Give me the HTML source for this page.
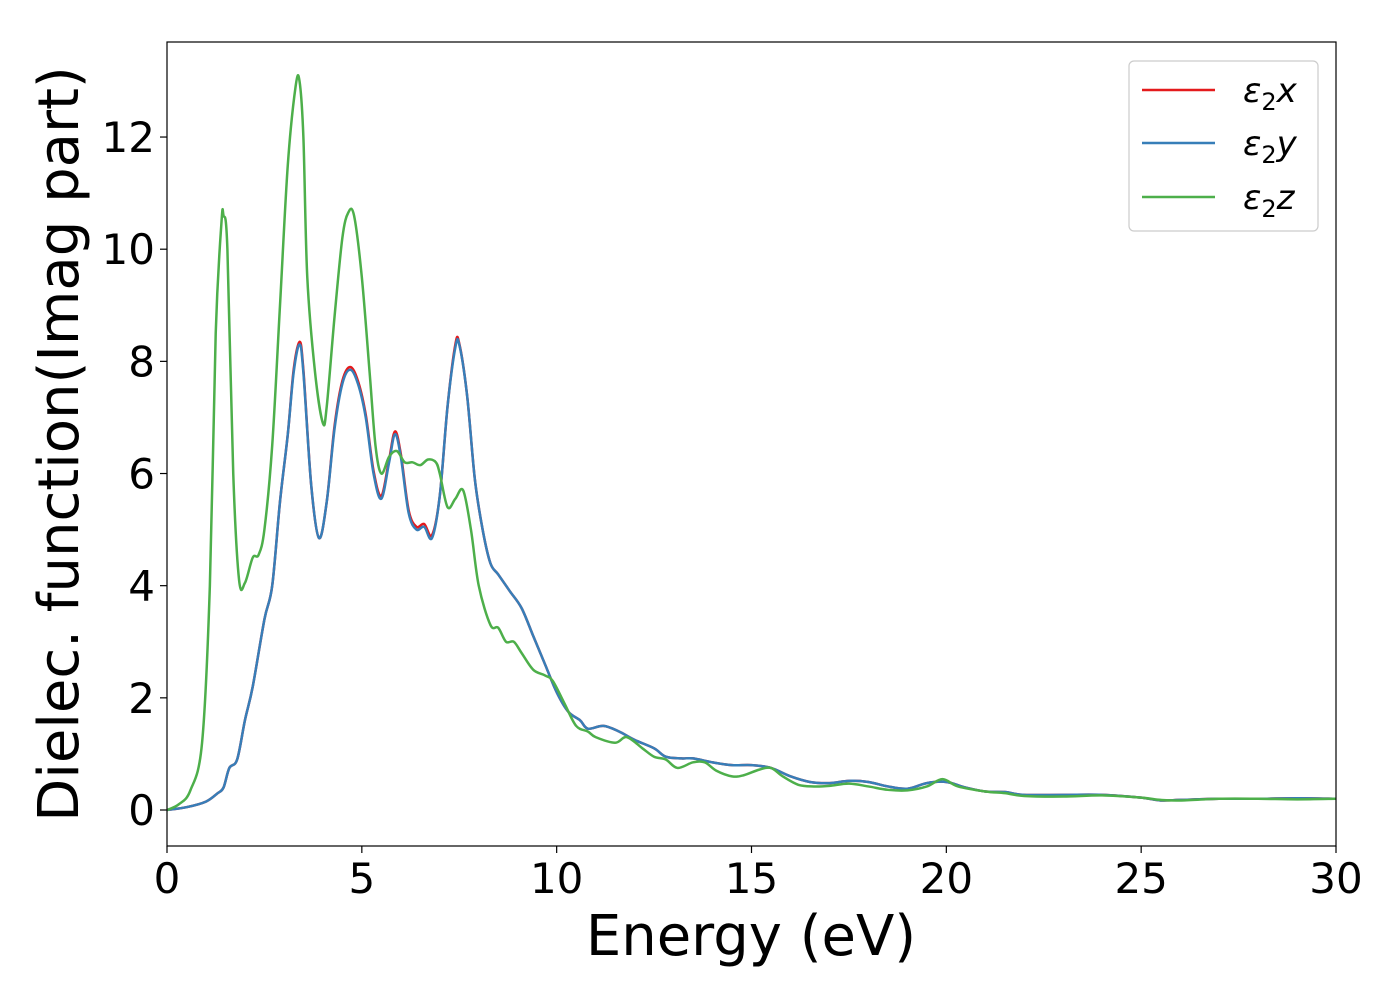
<!DOCTYPE html>
<html><head><meta charset="utf-8"><style>
body{margin:0;background:#fff;}
svg{display:block;font-family:"DejaVu Sans","Liberation Sans",sans-serif;}
</style></head><body>
<svg id="chart" width="1400" height="1000" viewBox="0 0 1400 1000">
<defs><clipPath id="clip"><rect x="167" y="42" width="1169" height="804"/></clipPath></defs>
<g id="ticks"></g>
<g id="series" clip-path="url(#clip)"></g>
<rect x="167" y="42" width="1169" height="804" fill="none" stroke="#000" stroke-width="1.2"/>
<text x="751" y="955" font-size="56" text-anchor="middle">Energy (eV)</text>
<text transform="translate(78,444) rotate(-90)" font-size="56" text-anchor="middle">Dielec. function(Imag part)</text>
<g>
<rect x="1129" y="61" width="189" height="170" rx="5" fill="#fff" stroke="#ccc" stroke-width="1.2"/>
<line x1="1142" y1="90" x2="1215" y2="90" stroke="#e41a1c" stroke-width="2.5"/>
<line x1="1142" y1="143" x2="1215" y2="143" stroke="#377eb8" stroke-width="2.5"/>
<line x1="1142" y1="197" x2="1215" y2="197" stroke="#4daf4a" stroke-width="2.5"/>
<text x="1243" y="102" font-size="34" font-style="italic">ε<tspan font-style="normal" font-size="24" dy="8">2</tspan><tspan dy="-8">x</tspan></text>
<text x="1243" y="155" font-size="34" font-style="italic">ε<tspan font-style="normal" font-size="24" dy="8">2</tspan><tspan dy="-8">y</tspan></text>
<text x="1243" y="209" font-size="34" font-style="italic">ε<tspan font-style="normal" font-size="24" dy="8">2</tspan><tspan dy="-8">z</tspan></text>
</g>
</svg>
<script>
const xTicks=[0,5,10,15,20,25,30];
const yTicks=[0,2,4,6,8,10,12];
const zE=[0,0.3,0.6,0.9,1.1,1.25,1.4,1.45,1.55,1.7,1.85,2.0,2.2,2.35,2.5,2.7,2.9,3.1,3.3,3.4,3.5,3.6,3.8,4.0,4.1,4.3,4.5,4.65,4.8,5.0,5.2,5.35,5.5,5.7,5.9,6.1,6.3,6.5,6.7,6.9,7.0,7.2,7.4,7.6,7.8,8.0,8.3,8.5,8.7,8.9,9.1,9.4,9.7,9.9,10.2,10.5,10.8,11,11.5,11.8,12.2,12.5,12.8,13.1,13.5,13.8,14.1,14.5,14.8,15.2,15.5,15.8,16.2,16.6,17,17.5,18,18.5,19,19.5,19.9,20.3,21,21.5,22,23,24,25,25.5,26,27,28,29,30];
const zV=[0,0.1,0.35,1.2,4,8.5,10.5,10.6,10,6,4.1,4.05,4.5,4.55,5,6.5,9,11.5,12.9,13,12,9.5,7.8,6.9,7.2,8.8,10.2,10.65,10.6,9.5,7.8,6.5,6.0,6.3,6.4,6.2,6.2,6.15,6.25,6.2,6,5.4,5.55,5.7,5.0,4.0,3.3,3.25,3.0,3.0,2.8,2.5,2.4,2.3,1.9,1.5,1.4,1.3,1.2,1.3,1.1,0.95,0.9,0.75,0.85,0.85,0.7,0.6,0.62,0.72,0.75,0.6,0.45,0.42,0.43,0.47,0.42,0.36,0.35,0.42,0.55,0.42,0.33,0.3,0.25,0.24,0.26,0.22,0.18,0.17,0.2,0.2,0.19,0.2];
const xyE=[0,0.5,1.0,1.3,1.45,1.6,1.8,2.0,2.2,2.5,2.7,2.9,3.1,3.25,3.4,3.5,3.7,3.9,4.1,4.3,4.5,4.7,4.9,5.1,5.3,5.5,5.7,5.85,6.0,6.2,6.4,6.6,6.8,7.0,7.2,7.4,7.5,7.7,7.9,8.1,8.3,8.5,8.8,9.1,9.4,9.7,10.0,10.3,10.6,10.8,11.2,11.6,12,12.5,12.8,13.2,13.5,14,14.5,15,15.5,16,16.5,17,17.5,18,18.5,19,19.5,20,20.5,21,21.5,22,23,24,25,25.5,26,27,28,29,30];
const yV=[0,0.05,0.15,0.3,0.4,0.75,0.9,1.6,2.2,3.4,4,5.5,6.7,7.8,8.3,7.8,5.8,4.85,5.5,6.8,7.6,7.85,7.6,7.0,6.0,5.55,6.2,6.7,6.3,5.3,5.0,5.05,4.85,5.6,7.2,8.25,8.3,7.4,5.9,5.0,4.4,4.2,3.9,3.6,3.1,2.6,2.1,1.75,1.6,1.45,1.5,1.4,1.25,1.1,0.95,0.92,0.92,0.85,0.8,0.8,0.75,0.6,0.5,0.48,0.52,0.5,0.42,0.38,0.48,0.5,0.4,0.33,0.32,0.27,0.27,0.27,0.22,0.17,0.18,0.2,0.2,0.21,0.2];
const xV=[0,0.05,0.15,0.3,0.4,0.75,0.9,1.6,2.2,3.4,4,5.5,6.7,7.85,8.35,7.85,5.8,4.85,5.5,6.85,7.65,7.9,7.65,7.05,6.05,5.6,6.25,6.75,6.35,5.35,5.05,5.1,4.9,5.6,7.2,8.3,8.32,7.4,5.9,5.0,4.4,4.2,3.9,3.6,3.1,2.6,2.1,1.75,1.6,1.45,1.5,1.4,1.25,1.1,0.95,0.92,0.92,0.85,0.8,0.8,0.75,0.6,0.5,0.48,0.52,0.5,0.42,0.38,0.48,0.5,0.4,0.33,0.32,0.27,0.27,0.27,0.22,0.17,0.18,0.2,0.2,0.21,0.2];

const X0=167,X1=1336,Y0=810,YPU=56.08;
const sx=v=>X0+(X1-X0)*v/30;
const sy=v=>Y0-v*YPU;
const NS='http://www.w3.org/2000/svg';
const tg=document.getElementById('ticks');
xTicks.forEach(t=>{
  const l=document.createElementNS(NS,'line');
  l.setAttribute('x1',sx(t));l.setAttribute('x2',sx(t));l.setAttribute('y1',846);l.setAttribute('y2',853);l.setAttribute('stroke','#000');l.setAttribute('stroke-width','1.2');
  
  
  tg.appendChild(l);
  const tx=document.createElementNS(NS,'text');
  tx.setAttribute('x',sx(t));tx.setAttribute('y',893);tx.setAttribute('font-size','42');tx.setAttribute('text-anchor','middle');
  tx.textContent=t;
  
  
  tg.appendChild(tx);
});
yTicks.forEach(t=>{
  const l=document.createElementNS(NS,'line');
  l.setAttribute('x1',160);l.setAttribute('x2',167);l.setAttribute('y1',sy(t));l.setAttribute('y2',sy(t));l.setAttribute('stroke','#000');l.setAttribute('stroke-width','1.2');
  
  
  tg.appendChild(l);
  const tx=document.createElementNS(NS,'text');
  tx.setAttribute('x',155);tx.setAttribute('y',sy(t)+15);tx.setAttribute('font-size','42');tx.setAttribute('text-anchor','end');
  tx.textContent=t;
  
  
  tg.appendChild(tx);
});
function pathFor(E,V){
  const p=E.map((e,i)=>[sx(e),sy(V[i])]);
  let d='M'+p[0][0]+','+p[0][1];
  for(let i=0;i<p.length-1;i++){
    const p0=p[Math.max(i-1,0)],p1=p[i],p2=p[i+1],p3=p[Math.min(i+2,p.length-1)];
    const c1=[p1[0]+(p2[0]-p0[0])/6,p1[1]+(p2[1]-p0[1])/6];
    const c2=[p2[0]-(p3[0]-p1[0])/6,p2[1]-(p3[1]-p1[1])/6];
    d+=' C'+c1+' '+c2+' '+p2;
  }
  return d;
}
const sg=document.getElementById('series');
[[xyE,xV,'#e41a1c','series-eps2-x'],[xyE,yV,'#377eb8','series-eps2-y'],[zE,zV,'#4daf4a','series-eps2-z']].forEach(s=>{
  const p=document.createElementNS(NS,'path');
  p.setAttribute('d',pathFor(s[0],s[1]));
  p.setAttribute('fill','none');p.setAttribute('stroke',s[2]);p.setAttribute('stroke-width','2.5');p.setAttribute('stroke-linejoin','round');
  
  
  sg.appendChild(p);
});
</script>
</body></html>
